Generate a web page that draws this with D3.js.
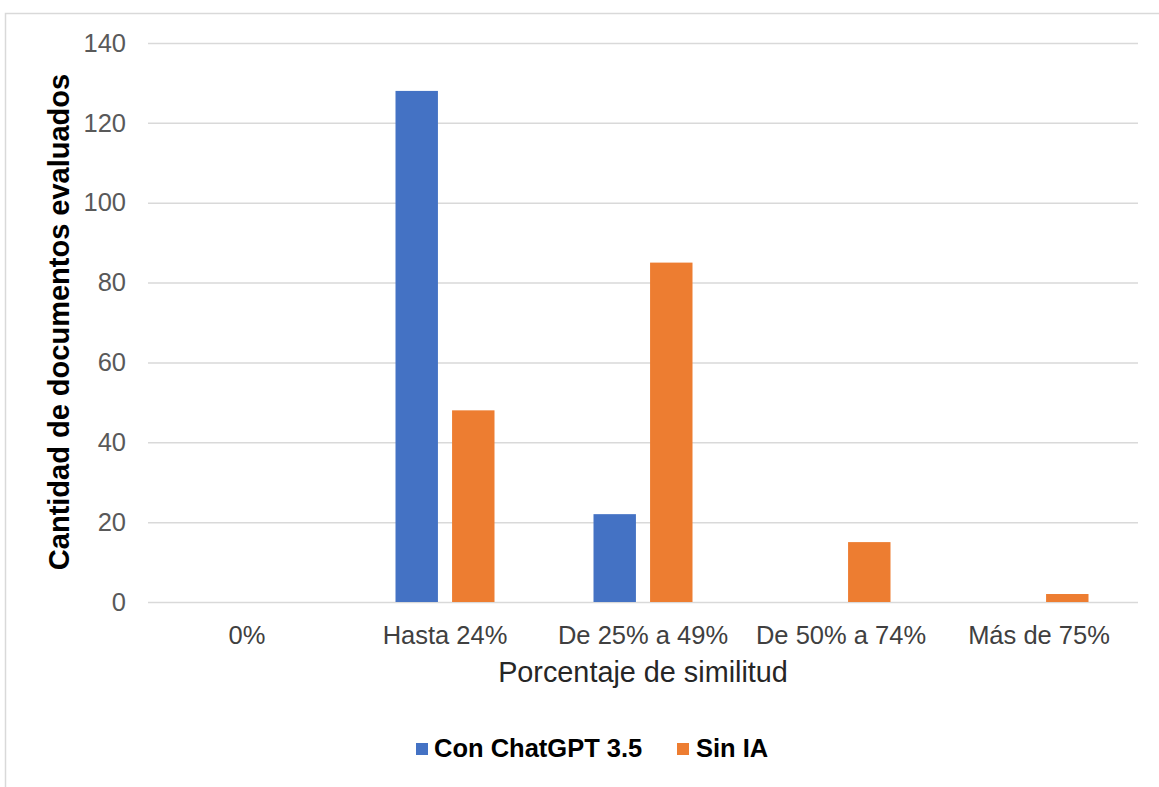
<!DOCTYPE html>
<html>
<head>
<meta charset="utf-8">
<script src="https://cdn.jsdelivr.net/npm/d3@7/dist/d3.min.js"></script>
<style>
  html, body { margin: 0; padding: 0; background: #fff; }
  svg { display: block; font-family: "Liberation Sans", Arial, sans-serif; }
</style>
</head>
<body>
<svg id="chart" width="1159" height="787"></svg>
<script>
const categories = ["0%", "Hasta 24%", "De 25% a 49%", "De 50% a 74%", "Más de 75%"];
const seriesNames = ["Con ChatGPT 3.5", "Sin IA"];
const conChatGPT = [0, 128, 22, 0, 0];
const sinIA = [0, 48, 85, 15, 2];
const yTicks = [0, 20, 40, 60, 80, 100, 120, 140];
const colors = ["#4472c4", "#ed7d31"];
const seriesValues = [conChatGPT, sinIA];

const svg = d3.select("#chart");

// outer chart border
svg.append("rect")
  .attr("x", 5.5).attr("y", 13.5)
  .attr("width", 1200).attr("height", 900)
  .attr("fill", "none").attr("stroke", "#d9d9d9").attr("stroke-width", 1.5);

const plot = { left: 148, right: 1138, top: 43, bottom: 602 };

const y = d3.scaleLinear().domain([0, 140]).range([plot.bottom, plot.top]);
const x0 = d3.scaleBand().domain(categories).range([plot.left, plot.right]);
const groupW = 99;
const x1 = d3.scaleBand().domain(seriesNames).range([0, groupW]).paddingInner(0.25);

// gridlines
const yAxis = d3.axisLeft(y).tickValues(yTicks).tickSize(-(plot.right - plot.left)).tickPadding(22);
const gy = svg.append("g").attr("transform", `translate(${plot.left},0)`).call(yAxis);
gy.select(".domain").remove();
gy.selectAll(".tick line").attr("stroke", "#d9d9d9").attr("stroke-width", 1.5);
gy.selectAll(".tick text")
  .attr("fill", "#595959")
  .attr("font-size", "25.5px")
  .attr("font-family", "'Liberation Sans', Arial, sans-serif");

// bars
categories.forEach((c, i) => {
  seriesNames.forEach((s, j) => {
    const v = seriesValues[j][i];
    if (v <= 0) return;
    svg.append("rect")
      .attr("x", x0(c) + (x0.bandwidth() - groupW) / 2 + x1(s))
      .attr("y", y(v))
      .attr("width", x1.bandwidth())
      .attr("height", y(0) - y(v))
      .attr("fill", colors[j]);
  });
});

// x axis labels
const xAxis = d3.axisBottom(x0).tickSize(0).tickPadding(24);
const gx = svg.append("g").attr("transform", `translate(0,${plot.bottom})`).call(xAxis);
gx.select(".domain").remove();
gx.selectAll(".tick text")
  .attr("fill", "#404040")
  .attr("font-size", "25.5px")
  .attr("font-family", "'Liberation Sans', Arial, sans-serif");

// axis titles
svg.append("text")
  .attr("x", (plot.left + plot.right) / 2)
  .attr("y", 682)
  .attr("text-anchor", "middle")
  .attr("fill", "#262626")
  .attr("font-size", "28.8px")
  .text("Porcentaje de similitud");

svg.append("text")
  .attr("transform", `translate(69,322) rotate(-90)`)
  .attr("text-anchor", "middle")
  .attr("fill", "#000")
  .attr("font-weight", "bold")
  .attr("font-size", "29px")
  .text("Cantidad de documentos evaluados");

// legend
const legendItems = [
  { name: seriesNames[0], color: colors[0], sx: 416, tx: 434 },
  { name: seriesNames[1], color: colors[1], sx: 677, tx: 696 }
];
legendItems.forEach(d => {
  svg.append("rect").attr("x", d.sx).attr("y", 743).attr("width", 12).attr("height", 12).attr("fill", d.color);
  svg.append("text").attr("x", d.tx).attr("y", 757)
    .attr("fill", "#000").attr("font-weight", "bold").attr("font-size", "25.5px")
    .text(d.name);
});
</script>
</body>
</html>
